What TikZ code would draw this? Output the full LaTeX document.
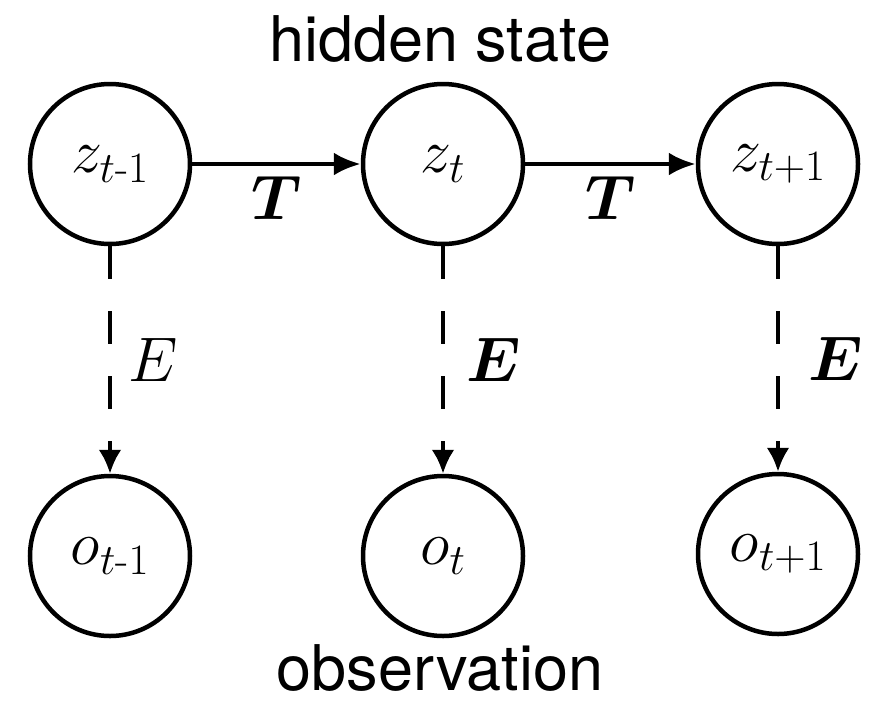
\RequirePackage{fix-cm}
\documentclass[tikz,border=0pt]{standalone}
\usepackage{amsmath}
\usepackage{bm}
\usepackage{fontspec}
\newfontfamily\headfont{TeX Gyre Heros}
\usepackage{tikz}
\usetikzlibrary{arrows.meta,positioning}

\begin{document}
\begin{tikzpicture}[
    x=1pt, y=-1pt,
    state/.style={circle, draw, line width=4.5pt, minimum size=160pt, inner sep=0pt, font=\fontsize{62}{74}\selectfont},
    trans/.style={draw, line width=4.5pt, -{Latex[length=27pt,width=23pt]}},
    emit/.style={draw, line width=4.5pt, dash pattern=on 33pt off 32pt, -{Latex[length=24pt,width=23pt]}},
    lbl/.style={font=\fontsize{63}{75}\selectfont, inner sep=0pt},
    caption/.style={font=\headfont\fontsize{63}{76}\selectfont, anchor=base, inner sep=0pt}
]
    \useasboundingbox (0,0) rectangle (875,702);

    % Captions
    \node[caption] (hid) at (440,61) {hidden state};
    \node[caption] (obs) at (440,690) {observation};

    % Hidden states
    \node[state] (z1) at (110,164) {$z_{t\text{-}1}$};
    \node[state] (z2) at (443,164) {$z_{t}$};
    \node[state] (z3) at (778,164) {$z_{t+1}$};

    % Observations
    \node[state] (o1) at (110,556) {$o_{t\text{-}1}$};
    \node[state] (o2) at (443,556) {$o_{t}$};
    \node[state] (o3) at (778,554) {$o_{t+1}$};

    % Transitions
    \draw[trans] (z1) -- node[lbl, yshift=-34pt] (t1) {$\bm{T}$} (z2);
    \draw[trans] (z2) -- node[lbl, yshift=-34pt] (t2) {$\bm{T}$} (z3);

    % Emissions
    \draw[emit] (z1) -- node[lbl, xshift=43pt] (e1) {$E$} (o1);
    \draw[emit] (z2) -- node[lbl, xshift=51pt] (e2) {$\bm{E}$} (o2);
    \draw[emit] (z3) -- node[lbl, xshift=58pt] (e3) {$\bm{E}$} (o3);

\end{tikzpicture}
\end{document}
